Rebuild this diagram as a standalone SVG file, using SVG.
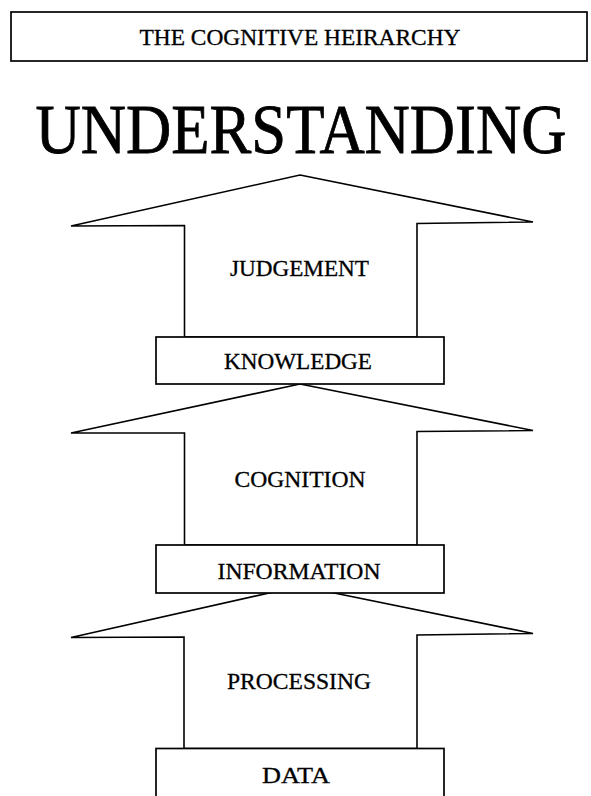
<svg xmlns="http://www.w3.org/2000/svg" width="591" height="796" viewBox="0 0 591 796">
  <style>
    .box { fill: #ffffff; stroke: #000000; stroke-width: 1.7; }
    .arrow { fill: #ffffff; stroke: #000000; stroke-width: 1.6; stroke-linejoin: miter; }
    .lbl { font-family: "Liberation Serif", "Times New Roman", serif; font-size: 23px; fill: #000000; stroke: #000000; stroke-width: 0.3; text-anchor: middle; }
    .big { font-family: "Liberation Serif", "Times New Roman", serif; font-size: 70px; fill: #000000; stroke: #000000; stroke-width: 0.8; text-anchor: middle; }
  </style>
  <rect x="0" y="0" width="591" height="796" fill="#ffffff"/>

  <g id="title">
    <rect class="box" x="11" y="12" width="576" height="49"/>
    <text class="lbl" x="300" y="45" textLength="321" lengthAdjust="spacingAndGlyphs">THE COGNITIVE HEIRARCHY</text>
  </g>

  <g id="understanding">
    <text class="big" transform="translate(301,153) scale(0.895,1)" x="0" y="0">UNDERSTANDING</text>
  </g>

  <g id="connectors">
    <g id="arrow-judgement">
      <polygon class="arrow" points="300,175 533,222 417,223.5 417,337 184.5,337 184.5,225.5 71,226"/>
      <text class="lbl" x="299.5" y="276" textLength="139" lengthAdjust="spacingAndGlyphs">JUDGEMENT</text>
    </g>
    <g id="arrow-cognition">
      <polygon class="arrow" points="300,384 533,430.5 417,431.5 417,545 184.5,545 184.5,433 71,433"/>
      <text class="lbl" x="300" y="487" textLength="131" lengthAdjust="spacingAndGlyphs">COGNITION</text>
    </g>
    <g id="arrow-processing">
      <polygon class="arrow" points="300,586 533,633.5 417,635 417,748.5 184,748.5 184,637 71,637.5"/>
      <text class="lbl" x="299" y="689" textLength="144" lengthAdjust="spacingAndGlyphs">PROCESSING</text>
    </g>
  </g>

  <g id="knowledge">
    <rect class="box" x="156" y="337" width="288" height="47"/>
    <text class="lbl" x="298" y="369" textLength="148" lengthAdjust="spacingAndGlyphs">KNOWLEDGE</text>
  </g>

  <g id="information">
    <rect class="box" x="156" y="545" width="288" height="48"/>
    <text class="lbl" x="299" y="579" textLength="163" lengthAdjust="spacingAndGlyphs">INFORMATION</text>
  </g>

  <g id="data">
    <rect class="box" x="156" y="748.5" width="288" height="60"/>
    <text class="lbl" x="296" y="783" textLength="68" lengthAdjust="spacingAndGlyphs">DATA</text>
  </g>
</svg>
